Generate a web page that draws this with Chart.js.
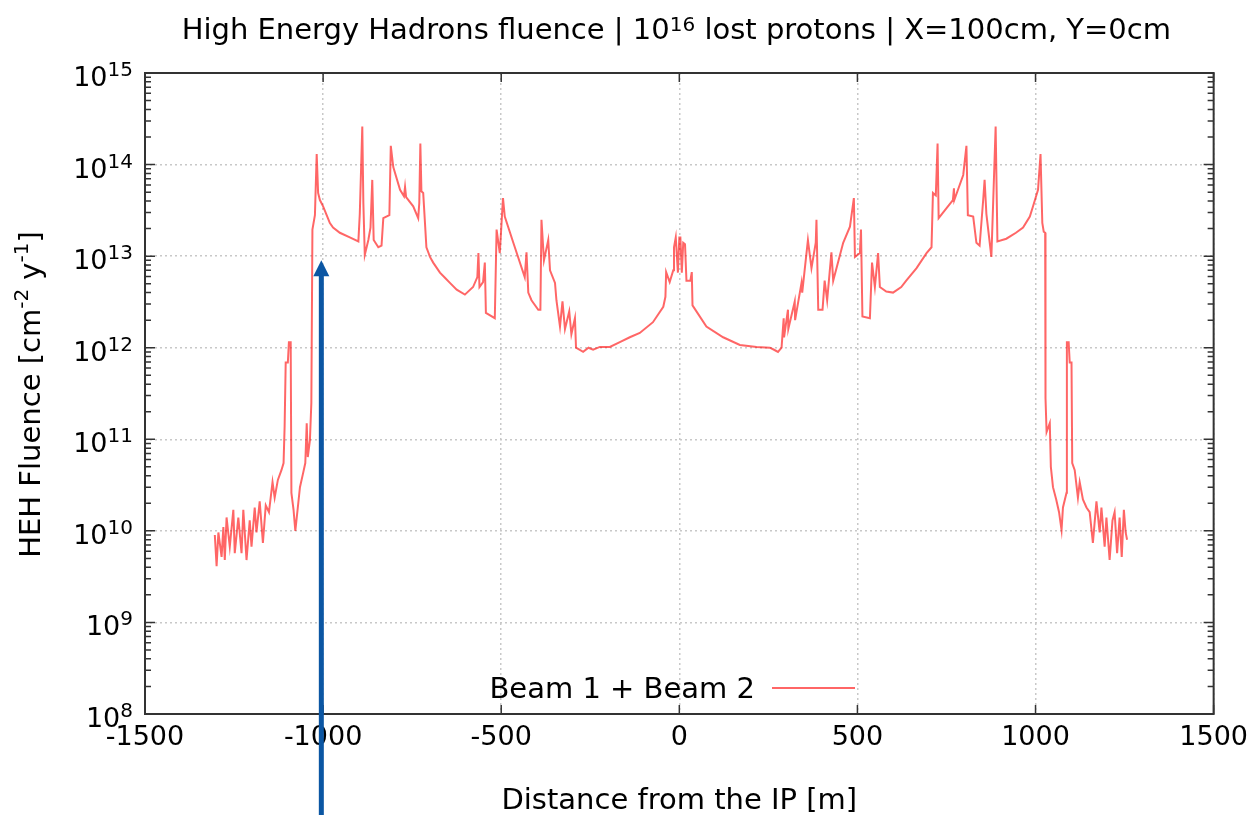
<!DOCTYPE html>
<html>
<head>
<meta charset="utf-8">
<title>HEH fluence</title>
<script src="https://cdn.jsdelivr.net/npm/chart.js@4.4.1/dist/chart.umd.min.js"></script>
<style>
  html, body { margin: 0; padding: 0; background: #fff; }
  #wrap { width: 1256px; height: 815px; position: relative; }
</style>
</head>
<body>
<div id="wrap"><canvas id="fluenceChart" width="1256" height="815"></canvas></div>
<script>
// distance from the IP [m]
var distance = [
  -1304, -1299, -1294, -1285, -1280, -1276, -1271, -1262, -1252, -1248, -1238, -1229, -1224, -1215, -1206, -1201,
  -1192, -1187, -1178, -1169, -1161, -1152, -1142, -1136, -1127, -1117, -1111,
  -1108, -1105, -1099, -1096, -1091, -1089, -1083, -1078, -1071, -1065, -1056, -1050, -1046, -1043, -1037, -1033,
  -1030, -1023, -1018, -1014, -1009, -1000, -990, -981, -972, -953, -925, -901, -897, -890, -887, -883, -873, -867,
  -862, -858, -845, -836, -831, -814, -810, -803, -784, -773, -770, -767, -747, -733, -730, -727, -724, -719, -710,
  -700, -691, -672, -658, -644, -625, -602, -579, -567, -564, -561, -551, -546, -543, -518, -513, -504, -495, -490,
  -466, -434, -429, -424, -415, -396, -390, -387, -380, -368, -363, -349, -345, -335, -328, -321, -309, -303, -293,
  -290, -270, -255, -242, -223, -195, -167, -139, -111, -74, -45, -39, -37, -27, -17, -15, -10, -4, 0, 3, 7, 11, 16,
  20, 31, 35, 37, 76, 123, 170, 217, 254, 266, 277, 287, 290, 293, 294, 305, 306, 324, 325, 343, 345, 361, 371, 383,
  385, 390, 402, 408, 415, 427, 432, 460, 479, 490, 493, 507, 510, 514, 535, 541, 549, 558, 563, 581, 600, 623, 637,
  666, 694, 708, 712, 720, 725, 728, 768, 771, 772, 797, 806, 810, 825, 834, 843, 853, 857, 862, 876, 881, 888, 893,
  918, 945, 965, 984, 993, 1007, 1014, 1019, 1023, 1027, 1028, 1031, 1040, 1043, 1049, 1058, 1066, 1073, 1077, 1087,
  1088, 1093, 1096, 1101, 1103, 1110, 1119, 1124, 1133, 1143, 1152, 1161, 1171, 1180, 1185, 1194, 1199, 1208, 1216,
  1222, 1229, 1236, 1242, 1248, 1253, 1257
];

// HEH fluence [cm-2 y-1], Beam 1 + Beam 2
var fluence = [
  9.0e9, 4.1e9, 9.6e9, 5.2e9, 1.1e10, 4.8e9, 1.4e10, 6.7e9, 1.7e10, 5.7e9, 1.4e10, 5.7e9, 1.7e10, 4.8e9, 1.3e10, 6.7e9,
  1.8e10, 9.6e9, 2.1e10, 7.4e9, 1.9e10, 1.6e10, 3.4e10, 2.3e10, 3.6e10, 4.6e10, 5.5e10,
  1.4e11, 6.9e11, 6.9e11, 1.15e12, 1.15e12, 2.6e10, 1.7e10, 1.0e10, 1.8e10, 3.0e10, 4.3e10, 5.5e10, 1.5e11, 6.4e10, 9.8e10, 2.5e11,
  1.95e13, 2.8e13, 1.3e14, 4.9e13, 4.1e13, 3.5e13, 2.8e13, 2.3e13, 2.05e13, 1.8e13, 1.6e13, 1.45e13, 2.9e13, 2.6e14, 3.8e13, 1.03e13, 1.5e13, 2.05e13,
  6.8e13, 1.5e13, 1.25e13, 1.3e13, 2.6e13, 2.8e13, 1.6e14, 9.4e13, 5.3e13, 4.5e13, 5.7e13, 4.4e13, 3.5e13, 2.6e13, 3.8e13, 1.7e14, 5.1e13, 4.9e13, 1.25e13,
  9.8e12, 8.5e12, 6.6e12, 5.8e12, 5.1e12, 4.3e12, 3.8e12, 4.6e12, 5.9e12, 1.08e13, 4.6e12, 5.2e12, 8.5e12, 2.4e12, 2.1e12, 1.95e13, 1.08e13, 4.3e13, 2.7e13,
  1.4e13, 5.9e12, 1.1e13, 4.0e12, 3.3e12, 2.6e12, 2.6e12, 2.5e13, 9.0e12, 1.5e13, 7.0e12, 5.1e12, 3.3e12, 1.7e12, 3.2e12, 1.6e12, 2.5e12, 1.4e12, 2.1e12,
  1.0e12, 9.0e11, 1.0e12, 9.5e11, 1.02e12, 1.02e12, 1.15e12, 1.3e12, 1.45e12, 1.9e12, 2.8e12, 3.6e12, 6.7e12, 5.2e12, 7.0e12, 1.25e13, 1.6e13, 6.6e12, 1.6e13, 1.6e13, 6.6e12, 1.4e13, 1.35e13,
  5.4e12, 5.4e12, 6.7e12, 2.9e12, 1.7e12, 1.3e12, 1.07e12, 1.02e12, 1.0e12, 9.5e11, 9.0e11, 1.0e12, 1.45e12, 2.1e12, 1.3e12, 2.6e12, 1.6e12, 3.2e12, 2.0e12, 5.1e12, 4.0e12, 1.5e13, 7.4e12, 1.4e13,
  2.5e13, 2.6e12, 2.6e12, 5.4e12, 3.3e12, 1.1e13, 5.4e12, 1.4e13, 2.1e13, 4.3e13, 9.8e12, 1.08e13, 1.95e13, 2.2e12, 2.1e12, 8.5e12, 4.6e12, 1.08e13, 4.6e12, 4.1e12, 4.0e12, 4.6e12, 5.4e12,
  7.4e12, 1.08e13, 1.25e13, 4.9e13, 4.6e13, 1.7e14, 2.6e13, 4.1e13, 5.5e13, 4.1e13, 7.7e13, 1.6e14, 2.8e13, 2.7e13, 1.4e13, 1.3e13, 4.1e13, 6.8e13, 2.9e13, 9.8e12, 3.8e13, 2.6e14, 1.45e13,
  1.55e13, 1.8e13, 2.05e13, 2.7e13, 3.5e13, 5.3e13, 1.3e14, 2.3e13, 1.85e13, 1.8e13, 2.8e11, 1.2e11, 1.5e11, 5.0e10, 3.0e10, 2.2e10, 1.6e10, 1.02e10, 1.8e10, 2.6e10,
  1.15e12, 1.15e12, 6.9e11, 6.9e11, 5.5e10, 4.6e10, 2.3e10, 3.4e10, 2.2e10, 1.8e10, 1.6e10, 7.4e9, 2.1e10, 9.6e9, 1.8e10, 6.7e9, 1.4e10, 4.8e9, 1.3e10,
  1.6e10, 5.7e9, 1.4e10, 5.2e9, 1.7e10, 9.6e9, 8.0e9
];

var xTicks = [-1500, -1000, -500, 0, 500, 1000, 1500];
var xTickLabels = ['-1500', '-1000', '-500', '0', '500', '1000', '1500'];
var yTicks = [1e8, 1e9, 1e10, 1e11, 1e12, 1e13, 1e14, 1e15];
var yTickExponents = ['8', '9', '10', '11', '12', '13', '14', '15'];

// annotation arrow (points at the ~-1000 m step)
var arrowX = -1005;
var arrowTip = 9e12;

var FONT = "'DejaVu Sans', sans-serif";

// draw a run of [text, isSuperscript] pieces, centred or right-aligned on x
function drawRich(ctx, pieces, x, y, size, supSize, raise, align) {
  var widths = pieces.map(function(p) {
    ctx.font = (p[1] ? supSize : size) + 'px ' + FONT;
    return ctx.measureText(p[0]).width;
  });
  var total = widths.reduce(function(a, b) { return a + b; }, 0);
  var cx = align === 'right' ? x - total : x - total / 2;
  ctx.textAlign = 'left';
  ctx.textBaseline = 'alphabetic';
  pieces.forEach(function(p, i) {
    ctx.font = (p[1] ? supSize : size) + 'px ' + FONT;
    ctx.fillText(p[0], cx, p[1] ? y - raise : y);
    cx += widths[i];
  });
}

var framePlugin = {
  id: 'frame',
  afterDraw: function(chart) {
    var ctx = chart.ctx;
    var a = chart.chartArea;
    var xs = chart.scales.x, ys = chart.scales.y;
    ctx.save();

    // tick marks, inward on all four sides
    ctx.strokeStyle = '#333';
    ctx.lineWidth = 1.5;
    ctx.beginPath();
    for (var n = 8; n < 15; n++) {
      for (var m = 2; m <= 9; m++) {
        var py = ys.getPixelForValue(m * Math.pow(10, n));
        ctx.moveTo(a.left, py); ctx.lineTo(a.left + 6, py);
        ctx.moveTo(a.right, py); ctx.lineTo(a.right - 6, py);
      }
    }
    yTicks.forEach(function(v) {
      var py = ys.getPixelForValue(v);
      ctx.moveTo(a.left, py); ctx.lineTo(a.left + 10, py);
      ctx.moveTo(a.right, py); ctx.lineTo(a.right - 10, py);
    });
    xTicks.forEach(function(v) {
      var px = xs.getPixelForValue(v);
      ctx.moveTo(px, a.bottom); ctx.lineTo(px, a.bottom - 9);
      ctx.moveTo(px, a.top); ctx.lineTo(px, a.top + 9);
    });
    ctx.stroke();

    // frame
    ctx.lineWidth = 2;
    ctx.strokeRect(a.left, a.top, a.right - a.left, a.bottom - a.top);

    ctx.fillStyle = '#000';
    // y tick labels 10^n
    yTicks.forEach(function(v, i) {
      var py = ys.getPixelForValue(v);
      drawRich(ctx, [['10', false], [yTickExponents[i], true]], a.left - 12, py + 13, 27, 20, 10, 'right');
    });

    // title
    drawRich(ctx, [['High Energy Hadrons fluence | 10', false], ['16', true], [' lost protons | X=100cm, Y=0cm', false]],
      (a.left + a.right) / 2 - 3, 39, 29, 20, 8, 'center');

    // y axis title, rotated
    ctx.save();
    ctx.translate(40, (a.top + a.bottom) / 2 + 1);
    ctx.rotate(-Math.PI / 2);
    drawRich(ctx, [['HEH Fluence [cm', false], ['-2', true], [' y', false], ['-1', true], [']', false]], 0, 0, 29, 20, 12, 'center');
    ctx.restore();

    // legend inside the plot
    var ds = chart.data.datasets[0];
    ctx.font = '29px ' + FONT;
    ctx.textAlign = 'right';
    ctx.textBaseline = 'middle';
    ctx.fillText(ds.label, 755, 690);
    ctx.strokeStyle = ds.borderColor;
    ctx.lineWidth = 2;
    ctx.beginPath();
    ctx.moveTo(772, 688); ctx.lineTo(855, 688);
    ctx.stroke();

    // blue arrow
    var ax = xs.getPixelForValue(arrowX);
    var ay = ys.getPixelForValue(arrowTip);
    ctx.fillStyle = '#0b56a3';
    ctx.fillRect(ax - 2.5, ay + 15, 5, chart.height - ay - 15);
    ctx.beginPath();
    ctx.moveTo(ax, ay);
    ctx.lineTo(ax + 8, ay + 16);
    ctx.lineTo(ax - 8, ay + 16);
    ctx.closePath();
    ctx.fill();

    ctx.restore();
  }
};

var points = distance.map(function(d, i) { return { x: d, y: fluence[i] }; });

new Chart(document.getElementById('fluenceChart').getContext('2d'), {
  type: 'line',
  data: {
    datasets: [{
      label: 'Beam 1 + Beam 2',
      data: points,
      borderColor: 'rgba(255,0,0,0.6)',
      borderWidth: 2,
      pointRadius: 0,
      tension: 0,
      fill: false
    }]
  },
  options: {
    responsive: false,
    animation: false,
    layout: { padding: { left: 0, right: 42, top: 73, bottom: 0 } },
    plugins: {
      legend: { display: false },
      tooltip: { enabled: false },
      title: { display: false }
    },
    scales: {
      x: {
        type: 'linear',
        min: -1500,
        max: 1500,
        afterBuildTicks: function(scale) {
          scale.ticks = xTicks.map(function(v) { return { value: v }; });
        },
        afterFit: function(scale) { scale.height = 101; },
        ticks: {
          color: '#000',
          padding: 8,
          maxRotation: 0,
          font: { family: FONT, size: 27 },
          callback: function(v) { return xTickLabels[xTicks.indexOf(v)]; }
        },
        grid: { color: '#c8c8c8', lineWidth: 1.5, drawTicks: false },
        border: { display: false, dash: [2, 3] },
        title: {
          display: true,
          text: 'Distance from the IP [m]',
          color: '#000',
          font: { family: FONT, size: 29 },
          padding: { top: 0, bottom: -4 }
        }
      },
      y: {
        type: 'logarithmic',
        min: 1e8,
        max: 1e15,
        afterBuildTicks: function(scale) {
          scale.ticks = yTicks.map(function(v) { return { value: v }; });
        },
        afterFit: function(scale) { scale.width = 145; },
        ticks: { display: false },
        grid: { color: '#c8c8c8', lineWidth: 1.5, drawTicks: false },
        border: { display: false, dash: [2, 3] }
      }
    }
  },
  plugins: [framePlugin]
});
</script>
</body>
</html>
